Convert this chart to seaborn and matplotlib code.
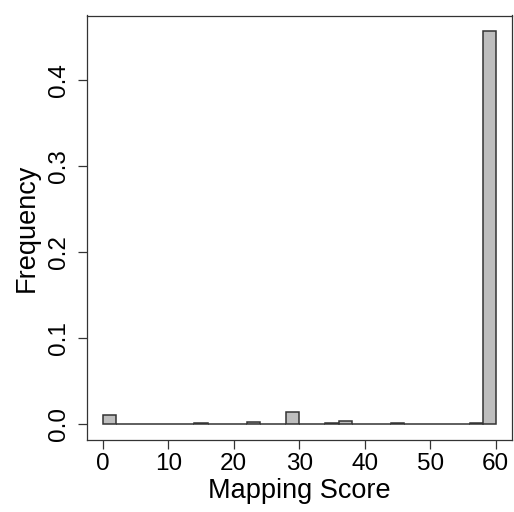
import numpy as np
import pandas as pd
import matplotlib
matplotlib.use("Agg")
import matplotlib.pyplot as plt
import seaborn as sns

# bins of width 2 from 0 to 60
bin_edges = list(range(0, 62, 2))
heights = [0.0113, 0.0, 0.0, 0.0, 0.0003, 0.0003, 0.0, 0.001, 0.0007, 0.0007,
           0.0004, 0.0023, 0.0, 0.0, 0.0144, 0.0, 0.0, 0.002, 0.0035, 0.0,
           0.0, 0.0, 0.001, 0.0, 0.0002, 0.0002, 0.0002, 0.0003, 0.001, 0.457]
x_ticks = [0, 10, 20, 30, 40, 50, 60]
y_ticks = [0.0, 0.1, 0.2, 0.3, 0.4]

centers = [(a + b) / 2 for a, b in zip(bin_edges[:-1], bin_edges[1:])]
df = pd.DataFrame({"score": centers, "freq": heights})

sns.set_style("ticks")
plt.rcParams["font.family"] = ["Liberation Sans", "DejaVu Sans"]
plt.rcParams["text.color"] = "black"
plt.rcParams["axes.labelcolor"] = "black"

fig = plt.figure(figsize=(5.14, 5.12), dpi=100)
ax = fig.add_axes([87 / 514, 72 / 512, (511.5 - 87) / 514, (440 - 15.5) / 512])

sns.histplot(data=df, x="score", weights="freq", bins=bin_edges, stat="count",
             facecolor="#bebebe", edgecolor="#333333", linewidth=1.1, alpha=1,
             ax=ax)

ax.set_xlim(-2.4, 62.4)
ymax = max(heights)
ax.set_ylim(-0.04 * ymax, ymax * 1.04)
ax.set_xticks(x_ticks)
ax.set_yticks(y_ticks)
ax.set_yticklabels([f"{v:.1f}" for v in y_ticks], rotation=90, va="center")
ax.tick_params(axis="both", labelsize=17.5, length=6.5, width=0.9, color="#333333",
               labelcolor="black")
ax.tick_params(axis="x", pad=3)
ax.tick_params(axis="y", pad=6)
for s in ax.spines.values():
    s.set_visible(True)
    s.set_color("#333333")
    s.set_linewidth(0.9)
ax.set_xlabel("Mapping Score", fontsize=19.5, labelpad=2, color="black")
ax.set_ylabel("Frequency", fontsize=19.5, labelpad=6, color="black")

fig.savefig("out.png", dpi=100)
